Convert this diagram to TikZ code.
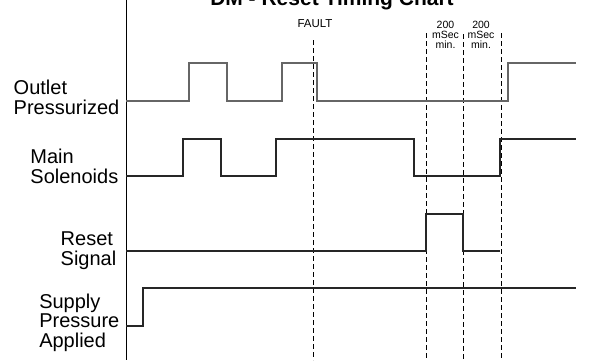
\documentclass[tikz,border=0pt]{standalone}
\usepackage{fontspec}
\setmainfont{Liberation Sans}
\usepackage{tikz}
\usetikzlibrary{positioning}

\tikzset{
  sig/.style={black!85, line width=1.2pt},
  sigpale/.style={black!60, line width=1.3pt},
  timemark/.style={black, line width=0.7pt, dash pattern=on 5pt off 3pt},
  rowlabel/.style={font=\fontsize{20}{19.8}\selectfont, align=left, inner sep=0pt, anchor=base east},
  smalllabel/.style={font=\fontsize{10.5}{10}\selectfont, align=center, inner sep=0pt, anchor=base}
}

\begin{document}
\begin{tikzpicture}[x=1pt,y=-1pt]
\useasboundingbox (0,0) rectangle (609,360);
% title, cut off by the page edge
\node[font=\bfseries\fontsize{21}{24}\selectfont, anchor=base, inner sep=0pt] (title) at (332,5) {DM - Reset Timing Chart};
% time axis
\draw[black, line width=0.8pt] (126,0) -- (126,360);
% markers
\node[smalllabel, font=\fontsize{11.5}{10}\selectfont] (fault) at (315,27.5) {FAULT};
\node[smalllabel] (delayA) at (445.5,48) {200\\mSec\\min.};
\node[smalllabel] (delayB) at (481,48) {200\\mSec\\min.};
\draw[timemark] (313,40) -- (313,360);
\draw[timemark] (426,33) -- (426,360);
\draw[timemark] (463,34) -- (463,360);
\draw[timemark] (501,33) -- (501,360);
% row labels
\node[rowlabel] (outletlbl) at (119.5,114.3) {Outlet\\Pressurized};
\node[rowlabel] (solenoidlbl) at (118.5,183.5) {Main\\Solenoids};
\node[rowlabel] (resetlbl) at (116.5,265) {Reset\\Signal};
\node[rowlabel] (supplylbl) at (119.5,347.7) {Supply\\Pressure\\Applied};
% signals
\draw[sigpale] (126,101) -- (189,101) -- (189,63) -- (227,63) -- (227,101) -- (282,101) -- (282,63) -- (317,63) -- (317,101) -- (508,101) -- (508,63) -- (576,63);
\draw[sig] (126,176) -- (183,176) -- (183,139) -- (221,139) -- (221,176) -- (276,176) -- (276,139) -- (414,139) -- (414,176) -- (500,176) -- (500,139) -- (576,139);
\draw[sig] (126,251) -- (426,251) -- (426,214) -- (463,214) -- (463,251) -- (500,251);
\draw[sig] (126,326) -- (143,326) -- (143,288) -- (576,288);
\end{tikzpicture}
\end{document}
